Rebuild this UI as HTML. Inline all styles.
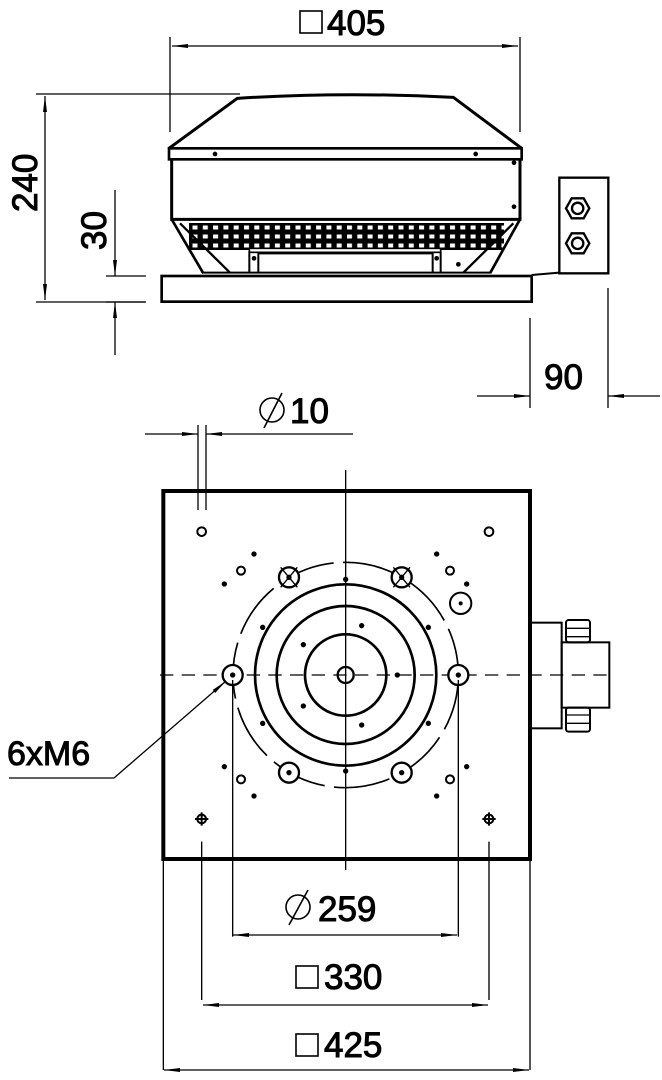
<!DOCTYPE html>
<html><head><meta charset="utf-8"><style>html,body{margin:0;padding:0;background:#fff}svg{display:block}text{font-family:"DejaVu Sans ExtraLight","Liberation Sans",sans-serif;font-weight:200;fill:#000}</style></head>
<body>
<svg width="662" height="1080" viewBox="0 0 662 1080" xmlns="http://www.w3.org/2000/svg" fill="none" stroke="#000">
<defs>
<marker id="a" markerWidth="16" markerHeight="6" refX="16" refY="3" orient="auto-start-reverse" markerUnits="userSpaceOnUse"><path d="M0,1 L16,3 L0,5 Z" fill="#000" stroke="none"/></marker>
<pattern id="g" x="190" y="223" width="10.3" height="9" patternUnits="userSpaceOnUse"><rect x="0" y="0" width="10.3" height="9" fill="#000"/><rect x="2" y="2" width="6" height="5" fill="#fff"/></pattern>
</defs>
<!-- TOP VIEW -->
<rect x="189" y="223" width="315" height="27" fill="url(#g)" stroke="none"/>
<g transform="translate(150,80) scale(0.33333)" stroke-width="3">
<path d="M57,205 L262,55 Q580,35 910,52 L1115,205" stroke-width="9"/>
<rect x="57" y="205" width="1058" height="33" stroke-width="8"/>
<path d="M65,238 L65,418 L1110,418 L1110,238" stroke-width="9"/>
<path d="M65,418 L160,580 M1110,418 L1020,580" stroke-width="8"/>
<path d="M90,430 L240,578 M1090,430 L940,578" stroke-width="7"/>
<path d="M298,515 L298,580 M325,515 L325,580 M848,515 L848,580 M872,515 L872,580 M325,520 L848,520 M160,578 L1020,578" stroke-width="6"/>
<rect x="298" y="505" width="574" height="12" fill="#fff" stroke-width="5"/>
<rect x="35" y="588" width="1110" height="77" stroke-width="8"/>
<path d="M1145,585 L1228,578" stroke-width="6"/>
<rect x="1228" y="293" width="147" height="287" stroke-width="7"/>
<polygon points="1248,385 1265,355 1301,355 1318,385 1301,415 1265,415" stroke-width="7"/>
<circle cx="1283" cy="385" r="17" stroke-width="7"/>
<polygon points="1248,490 1265,460 1301,460 1318,490 1301,520 1265,520" stroke-width="7"/>
<circle cx="1283" cy="490" r="17" stroke-width="7"/>
<g fill="#000" stroke="none">
<circle cx="195" cy="222" r="7"/><circle cx="977" cy="222" r="7"/><circle cx="1092" cy="248" r="7"/><circle cx="1092" cy="380" r="7"/><circle cx="312" cy="535" r="7"/><circle cx="860" cy="535" r="7"/><circle cx="925" cy="553" r="7"/>
</g>
</g>
<!-- top dims -->
<g stroke-width="1.3">
<path d="M170,37 V132 M520,37 V132"/>
<path d="M172,46 H518" marker-start="url(#a)" marker-end="url(#a)"/>
<path d="M36,94 H240 M36,302 H145"/>
<path d="M45,96 V300" marker-start="url(#a)" marker-end="url(#a)"/>
<path d="M106,276 H146 M106,302 H146"/>
<path d="M115,190 V276" marker-end="url(#a)"/>
<path d="M115,355 V302" marker-end="url(#a)"/>
<path d="M530,318 V408 M608,288 V408"/>
<path d="M477,396 H530" marker-end="url(#a)"/>
<path d="M660,396 H608" marker-end="url(#a)"/>
</g>
<rect x="300" y="11" width="22" height="22" stroke-width="1.6"/>
<text x="327" y="35" font-size="35">405</text>
<text transform="translate(37,212) rotate(-90)" font-size="35">240</text>
<text transform="translate(106,250) rotate(-90)" font-size="35">30</text>
<text x="544" y="389" font-size="35">90</text>
<!-- Ø10 -->
<g stroke-width="1.3">
<path d="M198,425 V510 M206,425 V510"/>
<path d="M145,434 H198" marker-end="url(#a)"/>
<path d="M353,434 H206" marker-end="url(#a)"/>
</g>
<circle cx="272" cy="410" r="12" stroke-width="1.6"/><path d="M264,428 L282,393" stroke-width="1.6"/>
<text x="290" y="423" font-size="35">10</text>
<!-- BOTTOM VIEW -->
<g transform="translate(160,480) scale(0.33333)" stroke-width="4">
<rect x="10" y="33" width="1100" height="1104" stroke-width="12"/>
<path d="M557,-30 V1170"/>
<path d="M0,585 H1360" stroke-dasharray="40,25"/>
<circle cx="557" cy="585" r="338" stroke-width="5" stroke-dasharray="170,28"/>
<circle cx="557" cy="585" r="122" stroke-width="8"/>
<circle cx="557" cy="585" r="207" stroke-width="8"/>
<circle cx="557" cy="585" r="272" stroke-width="8"/>
<circle cx="557" cy="585" r="24" stroke-width="7"/>
<g stroke-width="7" fill="#fff">
<circle cx="387" cy="292" r="30"/><circle cx="725" cy="292" r="30"/><circle cx="218" cy="585" r="30"/><circle cx="895" cy="585" r="30"/><circle cx="387" cy="878" r="30"/><circle cx="725" cy="878" r="30"/>
</g>
<path d="M362,262 L412,322 M412,262 L362,322 M700,262 L750,322 M750,262 L700,322" stroke-width="4"/>
<g fill="#000" stroke="none">
<circle cx="387" cy="292" r="8"/><circle cx="725" cy="292" r="8"/><circle cx="218" cy="585" r="8"/><circle cx="895" cy="585" r="8"/><circle cx="387" cy="878" r="8"/><circle cx="725" cy="878" r="8"/>
<circle cx="282" cy="222" r="8"/><circle cx="193" cy="312" r="8"/><circle cx="830" cy="222" r="8"/><circle cx="920" cy="312" r="8"/><circle cx="557" cy="298" r="8"/><circle cx="308" cy="442" r="8"/><circle cx="605" cy="437" r="8"/><circle cx="805" cy="442" r="8"/><circle cx="430" cy="494" r="8"/><circle cx="712" cy="585" r="8"/><circle cx="430" cy="678" r="8"/><circle cx="308" cy="730" r="8"/><circle cx="605" cy="735" r="8"/><circle cx="805" cy="730" r="8"/><circle cx="193" cy="860" r="8"/><circle cx="282" cy="948" r="8"/><circle cx="557" cy="873" r="8"/><circle cx="830" cy="948" r="8"/><circle cx="920" cy="860" r="8"/><circle cx="902" cy="370" r="6"/>
</g>
<g stroke-width="6">
<circle cx="125" cy="155" r="13"/><circle cx="987" cy="155" r="13"/>
<circle cx="243" cy="272" r="12"/><circle cx="870" cy="272" r="12"/><circle cx="243" cy="898" r="12"/><circle cx="870" cy="898" r="12"/>
<circle cx="902" cy="370" r="32"/>
<circle cx="125" cy="1017" r="13"/><circle cx="987" cy="1017" r="13"/>
<path d="M105,1017 H145 M125,997 V1037 M967,1017 H1007 M987,997 V1037"/>
</g>
<path d="M125,1085 V1560 M987,1085 V1560 M218,600 V1370 M895,600 V1370 M10,1137 V1770 M1110,1137 V1770" stroke-width="4"/>
<rect x="1110" y="428" width="95" height="317" stroke-width="6"/>
<rect x="1205" y="487" width="143" height="196" stroke-width="6"/>
<rect x="1218" y="420" width="72" height="67" rx="8" stroke-width="6"/>
<path d="M1218,445 H1290 M1218,470 H1290" stroke-width="4"/>
<rect x="1218" y="683" width="72" height="72" rx="8" stroke-width="6"/>
<path d="M1218,705 H1290 M1218,730 H1290" stroke-width="4"/>
</g>
<!-- 6xM6 leader -->
<path d="M9,778 H114 L226,681" stroke-width="1.3" marker-end="url(#a)"/>
<text x="7" y="765" font-size="34">6xM6</text>
<!-- bottom dims -->
<g stroke-width="1.3">
<path d="M233,935 H457" marker-start="url(#a)" marker-end="url(#a)"/>
<path d="M203,1005 H488" marker-start="url(#a)" marker-end="url(#a)"/>
<path d="M164,1070 H529" marker-start="url(#a)" marker-end="url(#a)"/>
</g>
<circle cx="298" cy="907" r="12" stroke-width="1.6"/><path d="M289,925 L308,890" stroke-width="1.6"/>
<text x="318" y="921" font-size="35">259</text>
<rect x="296" y="966" width="22" height="22" stroke-width="1.6"/>
<text x="324" y="989" font-size="35">330</text>
<rect x="296" y="1034" width="22" height="22" stroke-width="1.6"/>
<text x="324" y="1057" font-size="35">425</text>
</svg>
</body></html>
